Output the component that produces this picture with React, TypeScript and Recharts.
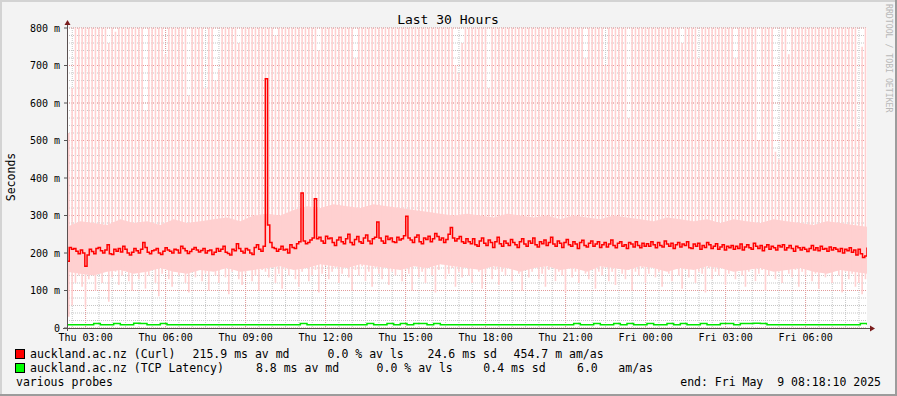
import React from 'react';
import { ComposedChart, Area, Bar, Line, XAxis, YAxis, CartesianGrid } from 'recharts';

const MONO = "'DejaVu Sans Mono', monospace";

// x is hours since Thu 00:00; the graph ends Fri 08:18:10 and covers 30 hours
const startHour = 2 + 18 / 60 + 10 / 3600;
const spanHours = 30;

const xTicks = [3, 6, 9, 12, 15, 18, 21, 24, 27, 30];
const xTickLabels = ['Thu 03:00', 'Thu 06:00', 'Thu 09:00', 'Thu 12:00', 'Thu 15:00', 'Thu 18:00', 'Thu 21:00', 'Fri 00:00', 'Fri 03:00', 'Fri 06:00'];
const yTicks = [0, 100, 200, 300, 400, 500, 600, 700, 800];
const yTickLabels = ['0', '100 m', '200 m', '300 m', '400 m', '500 m', '600 m', '700 m', '800 m'];

// Curl median (ms), one value per 5 minute step
const curlMedian = [
  178, 215, 210, 212, 205, 198, 208, 200, 165, 195, 210, 204, 198, 212, 215, 206, 200, 208, 222, 198,
  196, 210, 205, 212, 203, 218, 210, 200, 195, 202, 212, 206, 200, 210, 228, 215, 202, 198, 206, 208,
  212, 200, 196, 205, 214, 208, 205, 200, 210, 208, 200, 218, 212, 206, 199, 204, 210, 215, 208, 203,
  207, 212, 200, 206, 208, 196, 202, 212, 205, 210, 218, 202, 199, 195, 210, 206, 225, 212, 205, 200,
  212, 208, 200, 196, 215, 222, 210, 205, 218, 665, 275, 228, 215, 212, 205, 210, 218, 208, 210, 200,
  222, 215, 212, 225, 230, 360, 232, 225, 228, 235, 240, 345, 238, 242, 232, 226, 245, 238, 240, 228,
  220, 235, 242, 230, 225, 238, 250, 228, 222, 236, 244, 230, 226, 240, 248, 232, 225, 238, 242, 283,
  240, 232, 226, 245, 236, 240, 230, 228, 242, 235, 238, 246, 298, 240, 235, 228, 242, 248, 230, 225,
  240, 236, 245, 230, 238, 252, 244, 235, 240, 228, 236, 250, 268, 240, 232, 238, 244, 230, 226, 238,
  230, 225, 238, 222, 218, 232, 240, 226, 220, 235, 228, 215, 230, 242, 225, 218, 232, 226, 220, 236,
  228, 222, 215, 230, 238, 224, 218, 232, 226, 240, 222, 216, 230, 225, 235, 220, 228, 242, 224, 218,
  232, 226, 215, 228, 236, 222, 218, 230, 224, 212, 228, 234, 220, 216, 226, 232, 218, 224, 230, 215,
  222, 228, 216, 224, 235, 220, 214, 226, 230, 218, 222, 212, 228, 224, 216, 230, 220, 214, 226, 218,
  225, 218, 230, 222, 214, 228, 220, 216, 232, 224, 218, 226, 212, 222, 228, 216, 224, 220, 230, 214,
  212, 224, 218, 226, 210, 220, 215, 228, 222, 212, 218, 225, 210, 216, 222, 208, 218, 214, 220, 210,
  218, 212, 224, 208, 216, 222, 214, 210, 226, 218, 212, 220, 206, 216, 222, 210, 218, 214, 208, 220,
  216, 222, 208, 214, 220, 212, 205, 218, 214, 208, 215, 210, 204, 212, 220, 208, 214, 206, 218, 210,
  212, 205, 216, 208, 214, 210, 204, 212, 200, 210, 206, 214, 202, 208, 195, 210, 198, 188, 192, 215,
];

// lowest and highest ping of each 7.5 minute step (smoke); 900 = off the top of the graph
const smokeLow = [
  30, 60, 120, 140, 110, 55, 130, 150, 100, 145, 120, 160, 70, 135, 150, 115, 140, 165, 125, 100,
  150, 130, 160, 105, 140, 155, 120, 85, 145, 160, 130, 110, 150, 140, 165, 120, 95, 150, 135, 160,
  125, 145, 100, 155, 140, 120, 160, 135, 90, 150, 165, 130, 115, 145, 160, 125, 140, 100, 155, 150,
  135, 160, 120, 145, 105, 155, 140, 165, 130, 110, 150, 160, 125, 140, 155, 95, 145, 165, 130, 150,
  160, 120, 145, 170, 135, 100, 155, 140, 165, 125, 150, 110, 160, 145, 130, 170, 115, 150, 140, 160,
  125, 155, 145, 100, 165, 135, 150, 120, 160, 140, 95, 155, 170, 130, 145, 160, 110, 150, 135, 165,
  140, 120, 160, 150, 105, 145, 165, 130, 155, 115, 150, 140, 170, 125, 160, 145, 100, 155, 135, 150,
  160, 130, 145, 110, 155, 165, 125, 150, 140, 95, 160, 135, 150, 120, 165, 145, 130, 155, 105, 150,
  140, 160, 125, 150, 115, 165, 145, 130, 155, 100, 150, 140, 160, 120, 145, 165, 135, 150, 110, 155,
  145, 125, 160, 140, 105, 155, 135, 165, 120, 150, 145, 95, 160, 130, 150, 140, 165, 115, 145, 155,
  130, 160, 140, 110, 150, 165, 125, 145, 155, 100, 140, 160, 130, 150, 120, 165, 145, 135, 155, 110,
  150, 140, 160, 125, 145, 105, 155, 135, 150, 120, 160, 140, 95, 150, 130, 145, 110, 120, 90, 130,
];
const smokeHigh = [
  520, 640, 900, 900, 900, 900, 900, 900, 900, 900, 900, 900, 760, 900, 790, 900, 900, 900, 900, 900,
  900, 900, 900, 580, 900, 900, 900, 900, 900, 730, 900, 900, 900, 900, 900, 900, 620, 900, 900, 900,
  900, 640, 900, 900, 660, 690, 900, 900, 900, 900, 900, 760, 900, 900, 900, 900, 900, 900, 900, 900,
  900, 900, 780, 900, 900, 900, 900, 900, 900, 900, 900, 900, 900, 900, 900, 740, 900, 900, 900, 900,
  900, 900, 900, 900, 900, 900, 720, 900, 900, 900, 900, 900, 900, 900, 900, 900, 900, 900, 900, 900,
  900, 900, 900, 900, 900, 900, 900, 900, 900, 900, 900, 900, 900, 900, 900, 900, 700, 680, 760, 900,
  900, 900, 900, 900, 900, 900, 640, 900, 900, 900, 900, 900, 900, 900, 900, 900, 900, 900, 900, 900,
  900, 900, 900, 900, 900, 900, 900, 900, 900, 900, 900, 900, 900, 900, 900, 720, 900, 900, 900, 900,
  900, 700, 900, 900, 900, 900, 900, 900, 560, 900, 900, 900, 900, 900, 900, 900, 900, 900, 900, 900,
  900, 900, 900, 900, 760, 900, 900, 900, 900, 720, 900, 900, 900, 900, 900, 900, 900, 900, 900, 900,
  720, 900, 900, 900, 900, 900, 900, 500, 900, 900, 900, 900, 470, 450, 900, 900, 730, 900, 900, 900,
  900, 900, 900, 900, 900, 900, 900, 900, 900, 900, 900, 900, 900, 900, 900, 900, 900, 530, 750, 900,
];

// dense part of the smoke, every half hour
const coreLow = [
  150, 145, 140, 150, 155, 145, 150, 160, 150, 145, 155, 150, 160, 150, 155,
  160, 165, 155, 160, 170, 165, 160, 170, 165, 160, 155, 165, 160, 170, 165, 160,
  155, 165, 160, 150, 160, 165, 155, 160, 150, 165, 160, 155, 165, 160, 150, 160, 155, 165, 160, 150,
  155, 160, 150, 155, 160, 150, 145, 155, 150, 145,
];
const coreHigh = [
  270, 285, 280, 275, 290, 280, 285, 275, 290, 280, 285, 290, 295, 285, 300,
  305, 300, 315, 325, 320, 330, 325, 320, 330, 325, 320, 315, 310, 305, 300, 305,
  300, 295, 305, 300, 295, 300, 290, 300, 295, 290, 300, 295, 290, 285, 295, 290, 285, 290, 280, 290,
  285, 280, 290, 285, 280, 275, 285, 280, 275, 270,
];

// TCP latency (ms), every quarter hour
const tcpLatency = [
  8.6, 8.5, 8.7, 8.6, 12, 8.6, 8.5, 12, 8.6, 8.7,
  12.5, 12, 8.6, 8.5, 12, 8.6, 8.7, 8.6, 8.5, 8.6,
  8.7, 8.6, 8.5, 8.6, 8.6, 8.7, 8.5, 8.6, 8.6, 8.7,
  8.6, 8.5, 8.6, 8.7, 8.6, 12, 8.6, 8.5, 8.6, 8.7,
  8.6, 8.6, 8.5, 8.7, 8.6, 12, 8.6, 8.5, 12, 8.6,
  12, 8.7, 12, 12, 8.6, 12, 8.5, 8.6, 8.7, 8.6,
  8.6, 8.5, 8.7, 8.6, 8.6, 8.5, 8.7, 8.6, 8.6, 8.5,
  8.6, 8.7, 8.6, 8.5, 8.6, 8.6, 12, 8.7, 8.6, 12,
  8.6, 8.5, 12, 8.6, 12, 8.7, 8.6, 12, 8.5, 8.6,
  12, 8.6, 12, 8.7, 8.6, 12, 8.6, 8.5, 12, 12,
  8.6, 12, 12, 12.5, 12, 8.6, 8.7, 8.6, 8.5, 8.6,
  8.6, 8.7, 8.6, 8.5, 8.6, 8.6, 8.7, 8.6, 8.5, 12, 8.6,
];

const smokeData = smokeLow.map((lo, i) => ({ idx: i, lo, span: smokeHigh[i] - lo }));
const medianStep = spanHours / (curlMedian.length - 1);
const medianData = curlMedian.map((med, i) => ({ t: startHour + i * medianStep, med }));
const coreData = coreLow.map((lo, i) => ({ t: startHour + i * 0.5, lo, hi: coreHigh[i] }));
const tcpData = tcpLatency.map((v, i) => ({ t: startHour + i * 0.25, v }));

const minorX = Array.from({ length: 60 }, (_, i) => 2.5 + i * 0.5);
const minorY = Array.from({ length: 41 }, (_, i) => i * 20);

const smokeColor = '#ffd0d0';

const App: React.FC = () => {
  return (
    <div style={{ position: 'fixed', left: 0, top: 0, width: 897, height: 396, background: '#f3f3f3', overflow: 'hidden' }}>
      {/* white canvas behind the plot */}
      <div style={{ position: 'absolute', left: 67, top: 28, width: 800, height: 300, background: '#ffffff' }} />
      <div style={{ position: 'absolute', left: 0, top: 0 }}>
        <ComposedChart width={897} height={396} data={smokeData} margin={{ top: 28, right: 30, bottom: 38, left: 0 }}>
          <XAxis
            xAxisId="time"
            dataKey="t"
            type="number"
            domain={[startHour, startHour + spanHours]}
            allowDataOverflow
            ticks={xTicks}
            interval={0}
            tickFormatter={(v: number) => xTickLabels[xTicks.indexOf(v)]}
            axisLine={false}
            tickLine={false}
            tickSize={3}
            tickMargin={3}
            height={30}
            tick={{ fontSize: 10, fill: '#000', fontFamily: MONO }}
          />
          <XAxis xAxisId="step" dataKey="idx" type="category" orientation="top" height={0} hide />
          <YAxis
            type="number"
            domain={[0, 800]}
            allowDataOverflow
            ticks={yTicks}
            interval={0}
            tickFormatter={(v: number) => yTickLabels[yTicks.indexOf(v)]}
            axisLine={false}
            tickLine={{ stroke: '#555' }}
            tickSize={3}
            tickMargin={4}
            width={67}
            tick={{ fontSize: 10, fill: '#000', fontFamily: MONO }}
          />
          <Area
            xAxisId="time"
            data={coreData}
            dataKey={(d: any) => [d.lo, d.hi]}
            type="linear"
            stroke="none"
            fill={smokeColor}
            fillOpacity={1}
            isAnimationActive={false}
          />
          <Bar xAxisId="step" dataKey="lo" stackId="smoke" barSize={1.6} fill="none" isAnimationActive={false} />
          <Bar xAxisId="step" dataKey="span" stackId="smoke" barSize={1.6} fill={smokeColor} isAnimationActive={false} />
          <CartesianGrid
            xAxisId="time"
            horizontalValues={minorY}
            verticalValues={minorX}
            stroke="#c6c6c6"
            strokeDasharray="1 1"
            fill="none"
          />
          <CartesianGrid
            xAxisId="time"
            horizontalValues={yTicks}
            verticalValues={xTicks}
            stroke="#e29a9a"
            strokeDasharray="1 1"
            fill="none"
          />
          <Line xAxisId="time" data={medianData} dataKey="med" type="stepAfter" stroke="#ff0000" strokeWidth={1.5} dot={false} isAnimationActive={false} />
          <Line xAxisId="time" data={tcpData} dataKey="v" type="stepAfter" stroke="#00e600" strokeWidth={1.5} dot={false} isAnimationActive={false} />
        </ComposedChart>
      </div>
      <svg width={897} height={396} style={{ position: 'absolute', left: 0, top: 0, pointerEvents: 'none' }}>
        {/* frame */}
        <line x1={0} y1={1} x2={897} y2={1} stroke="#d3d3d3" strokeWidth={2} />
        <line x1={1} y1={0} x2={1} y2={396} stroke="#d3d3d3" strokeWidth={2} />
        <line x1={0} y1={395} x2={897} y2={395} stroke="#9c9c9c" strokeWidth={2} />
        <line x1={896} y1={0} x2={896} y2={396} stroke="#9c9c9c" strokeWidth={2} />
        {/* axes with arrows */}
        <line x1={67.5} y1={331} x2={67.5} y2={24} stroke="#5a5050" strokeWidth={1} />
        <line x1={63} y1={328.5} x2={871} y2={328.5} stroke="#5a5050" strokeWidth={1} />
        <polygon points="64.5,25 70.5,25 67.5,20" fill="#7a1c1c" />
        <polygon points="870,325.5 870,331.5 875,328.5" fill="#7a1c1c" />
        <g fontFamily={MONO} fill="#000">
          <text x={448} y={24} fontSize={13} textAnchor="middle">Last 30 Hours</text>
          <text transform="translate(15,177) rotate(-90)" fontSize={11.5} textAnchor="middle">Seconds</text>
          <text transform="translate(886,4) rotate(90)" fontSize={8.2} fill="#b8b8b8">RRDTOOL / TOBI OETIKER</text>
          <rect x={15.5} y={349.5} width={9} height={9} fill="#ff0000" stroke="#000" />
          <rect x={15.5} y={363.5} width={9} height={9} fill="#00ff00" stroke="#000" />
          <text y={358} fontSize={11.5}>
            <tspan x={30}>auckland.ac.nz (Curl)</tspan>
            <tspan x={192.6}>215.9 ms av md</tspan>
            <tspan x={327.6}>0.0 % av ls</tspan>
            <tspan x={427.6}>24.6 ms sd</tspan>
            <tspan x={513.6}>454.7 m am/as</tspan>
          </text>
          <text y={372} fontSize={11.5}>
            <tspan x={30}>auckland.ac.nz (TCP Latency)</tspan>
            <tspan x={256}>8.8 ms av md</tspan>
            <tspan x={376.6}>0.0 % av ls</tspan>
            <tspan x={483.3}>0.4 ms sd</tspan>
            <tspan x={577}>6.0</tspan>
            <tspan x={618.3}>am/as</tspan>
          </text>
          <text x={16} y={386} fontSize={11.5}>various probes</text>
          <text x={881} y={386} fontSize={11.5} textAnchor="end" style={{ whiteSpace: 'pre' }}>end: Fri May  9 08:18:10 2025</text>
        </g>
      </svg>
    </div>
  );
};

export default App;
